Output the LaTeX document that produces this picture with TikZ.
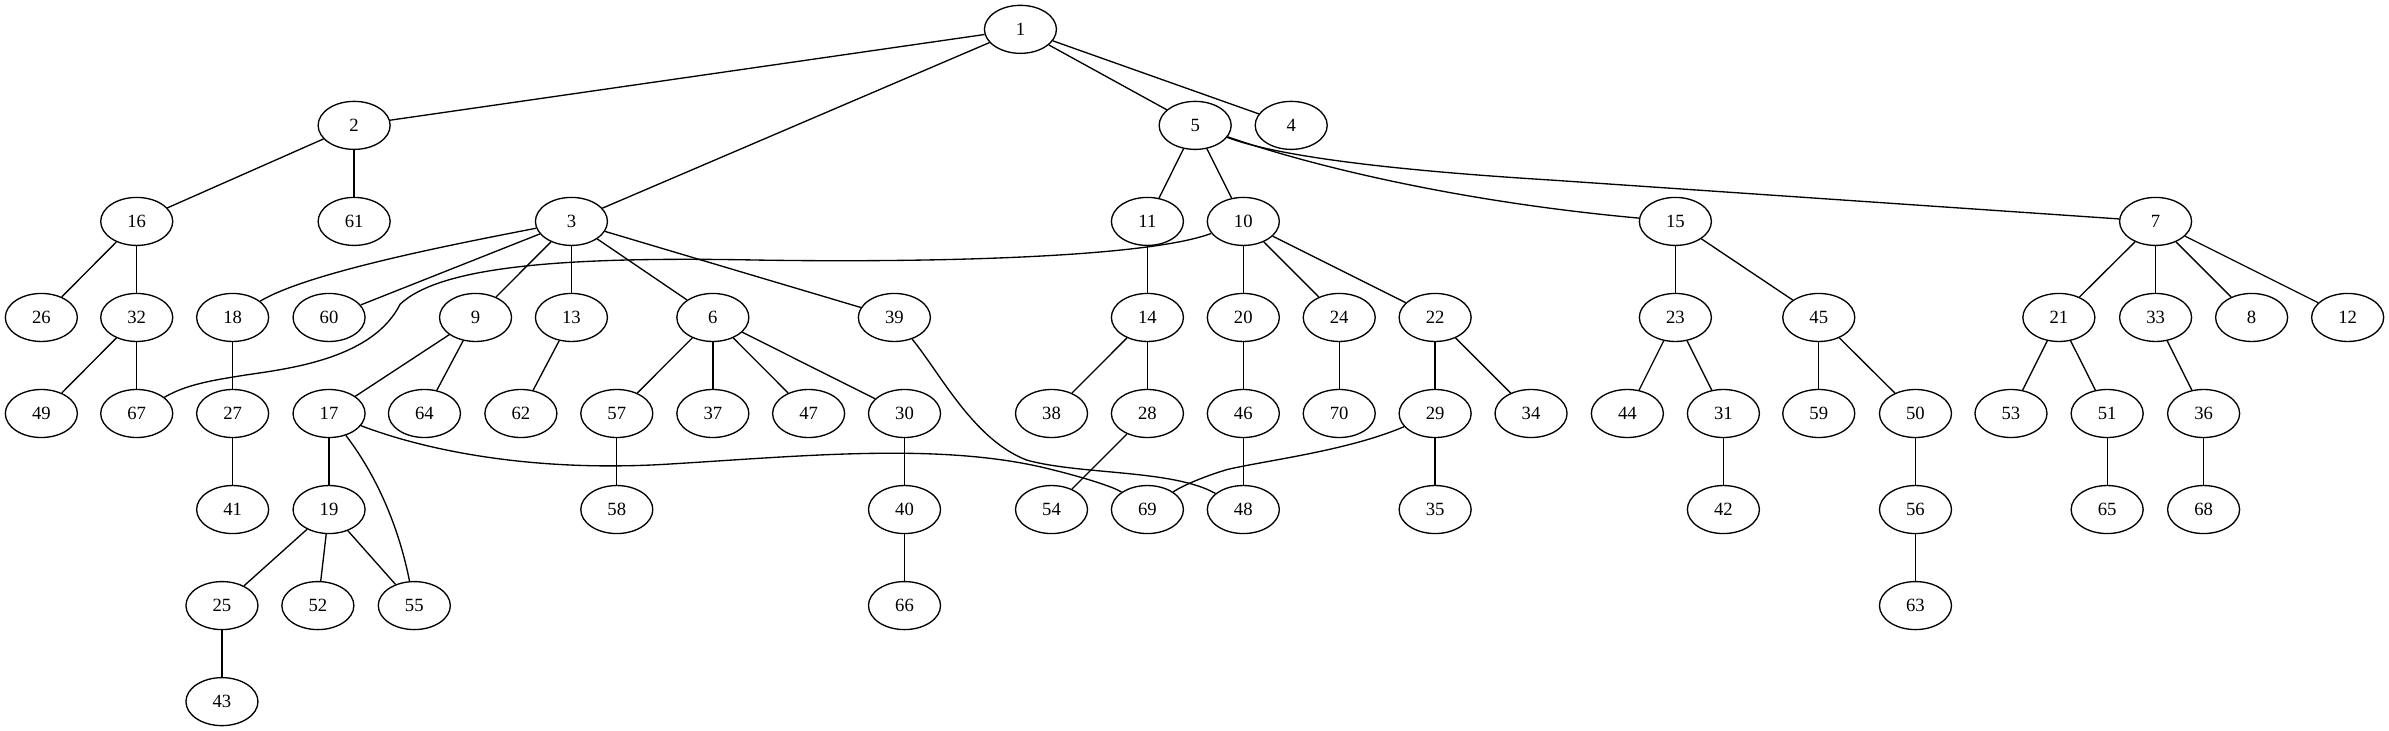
\documentclass[tikz,border=0pt]{standalone}
\usepackage{fontspec}
\setmainfont{Liberation Serif}
\usetikzlibrary{shapes.geometric}

\tikzset{
  vtx/.style={ellipse,draw,line width=1pt,minimum width=54pt,minimum height=36pt,inner sep=0pt,font=\fontsize{14}{16}\selectfont},
  lnk/.style={draw,line width=1pt}
}

\begin{document}
\begin{tikzpicture}[x=1pt,y=-1pt]
\useasboundingbox (0,0) rectangle (1791,548);
% rank 0 and 1
\node[vtx] (n1) at (765,22) {1};
\node[vtx] (n2) at (265.5,94) {2};
\node[vtx] (n5) at (896,94) {5};
\node[vtx] (n4) at (968,94) {4};
% rank 2
\node[vtx] (n16) at (102.5,166) {16};
\node[vtx] (n61) at (265.5,166) {61};
\node[vtx] (n3) at (428.4,166) {3};
\node[vtx] (n11) at (860.2,166) {11};
\node[vtx] (n10) at (932.1,166) {10};
\node[vtx] (n15) at (1256,166) {15};
\node[vtx] (n7) at (1616,166) {7};
% rank 3
\node[vtx] (n26) at (31,238) {26};
\node[vtx] (n32) at (102.5,238) {32};
\node[vtx] (n18) at (174.4,238) {18};
\node[vtx] (n60) at (246.7,238) {60};
\node[vtx] (n9) at (356.5,238) {9};
\node[vtx] (n13) at (428.4,238) {13};
\node[vtx] (n6) at (534.4,238) {6};
\node[vtx] (n39) at (670.5,238) {39};
\node[vtx] (n14) at (860.2,238) {14};
\node[vtx] (n20) at (932.1,238) {20};
\node[vtx] (n24) at (1004,238) {24};
\node[vtx] (n22) at (1075.9,238) {22};
\node[vtx] (n23) at (1256,238) {23};
\node[vtx] (n45) at (1363.5,238) {45};
\node[vtx] (n21) at (1543.5,238) {21};
\node[vtx] (n33) at (1616,238) {33};
\node[vtx] (n8) at (1688,238) {8};
\node[vtx] (n12) at (1760,238) {12};
% rank 4
\node[vtx] (n49) at (31,310) {49};
\node[vtx] (n67) at (102.5,310) {67};
\node[vtx] (n27) at (174.4,310) {27};
\node[vtx] (n17) at (246.7,310) {17};
\node[vtx] (n64) at (318.2,310) {64};
\node[vtx] (n62) at (390.5,310) {62};
\node[vtx] (n57) at (462.4,310) {57};
\node[vtx] (n37) at (534.4,310) {37};
\node[vtx] (n47) at (606.2,310) {47};
\node[vtx] (n30) at (678.1,310) {30};
\node[vtx] (n38) at (788.3,310) {38};
\node[vtx] (n28) at (860.2,310) {28};
\node[vtx] (n46) at (932.1,310) {46};
\node[vtx] (n70) at (1004,310) {70};
\node[vtx] (n29) at (1075.9,310) {29};
\node[vtx] (n34) at (1147.8,310) {34};
\node[vtx] (n44) at (1220,310) {44};
\node[vtx] (n31) at (1292,310) {31};
\node[vtx] (n59) at (1363.5,310) {59};
\node[vtx] (n50) at (1436,310) {50};
\node[vtx] (n53) at (1507.6,310) {53};
\node[vtx] (n51) at (1579.7,310) {51};
\node[vtx] (n36) at (1652,310) {36};
% rank 5
\node[vtx] (n41) at (174.4,382) {41};
\node[vtx] (n19) at (246.7,382) {19};
\node[vtx] (n58) at (462.4,382) {58};
\node[vtx] (n40) at (678.1,382) {40};
\node[vtx] (n54) at (788.3,382) {54};
\node[vtx] (n69) at (860.2,382) {69};
\node[vtx] (n48) at (932.1,382) {48};
\node[vtx] (n35) at (1075.9,382) {35};
\node[vtx] (n42) at (1292,382) {42};
\node[vtx] (n56) at (1436,382) {56};
\node[vtx] (n65) at (1579.7,382) {65};
\node[vtx] (n68) at (1652,382) {68};
% rank 6 and 7
\node[vtx] (n25) at (166.4,454) {25};
\node[vtx] (n52) at (238.3,454) {52};
\node[vtx] (n55) at (310.6,454) {55};
\node[vtx] (n66) at (678.1,454) {66};
\node[vtx] (n63) at (1436,454) {63};
\node[vtx] (n43) at (166.4,526) {43};

% edges
\draw[lnk] (n1) -- (n2);
\draw[lnk] (n1) -- (n3);
\draw[lnk] (n1) -- (n5);
\draw[lnk] (n1) -- (n4);
\draw[lnk] (n2) -- (n16);
\draw[lnk] (n2) -- (n61);
\draw[lnk] (n16) -- (n26);
\draw[lnk] (n16) -- (n32);
\draw[lnk] (n32) -- (n49);
\draw[lnk] (n32) -- (n67);
\draw[lnk] (n3) .. controls (330,185) and (230,205) .. (n18);
\draw[lnk] (n3) -- (n60);
\draw[lnk] (n3) -- (n9);
\draw[lnk] (n3) -- (n13);
\draw[lnk] (n3) -- (n6);
\draw[lnk] (n3) -- (n39);
\draw[lnk] (n18) -- (n27);
\draw[lnk] (n27) -- (n41);
\draw[lnk] (n9) -- (n17);
\draw[lnk] (n9) -- (n64);
\draw[lnk] (n13) -- (n62);
\draw[lnk] (n6) -- (n57);
\draw[lnk] (n6) -- (n37);
\draw[lnk] (n6) -- (n47);
\draw[lnk] (n6) -- (n30);
\draw[lnk] (n57) -- (n58);
\draw[lnk] (n30) -- (n40);
\draw[lnk] (n40) -- (n66);
\draw[lnk] (n17) -- (n19);
\draw[lnk] (n17) .. controls (285,360) and (300,400) .. (n55);
\draw[lnk] (n17) .. controls (320,338) and (400,354) .. (500,348) .. controls (600,342) and (700,332) .. (780,350) .. controls (810,357) and (835,365) .. (n69);
\draw[lnk] (n19) -- (n25);
\draw[lnk] (n19) -- (n52);
\draw[lnk] (n19) -- (n55);
\draw[lnk] (n25) -- (n43);
\draw[lnk] (n39) .. controls (705,280) and (730,330) .. (770,345) .. controls (810,356) and (880,352) .. (n48);
\draw[lnk] (n5) -- (n11);
\draw[lnk] (n5) -- (n10);
\draw[lnk] (n5) .. controls (970,120) and (1080,150) .. (n15);
\draw[lnk] (n5) .. controls (960,118) and (1050,128) .. (1163,135) -- (n7);
\draw[lnk] (n11) -- (n14);
\draw[lnk] (n14) -- (n38);
\draw[lnk] (n14) -- (n28);
\draw[lnk] (n28) -- (n54);
\draw[lnk] (n10) .. controls (860,193) and (700,197) .. (570,195) .. controls (420,192) and (330,200) .. (300,228) .. controls (280,268) and (220,276) .. (185,281) .. controls (160,285) and (140,288) .. (n67);
\draw[lnk] (n10) -- (n20);
\draw[lnk] (n10) -- (n24);
\draw[lnk] (n10) -- (n22);
\draw[lnk] (n20) -- (n46);
\draw[lnk] (n46) -- (n48);
\draw[lnk] (n24) -- (n70);
\draw[lnk] (n22) -- (n29);
\draw[lnk] (n22) -- (n34);
\draw[lnk] (n29) -- (n35);
\draw[lnk] (n29) .. controls (1010,338) and (950,345) .. (920,352) .. controls (900,358) and (885,365) .. (n69);
\draw[lnk] (n15) -- (n23);
\draw[lnk] (n15) -- (n45);
\draw[lnk] (n23) -- (n44);
\draw[lnk] (n23) -- (n31);
\draw[lnk] (n31) -- (n42);
\draw[lnk] (n45) -- (n59);
\draw[lnk] (n45) -- (n50);
\draw[lnk] (n50) -- (n56);
\draw[lnk] (n56) -- (n63);
\draw[lnk] (n7) -- (n21);
\draw[lnk] (n7) -- (n33);
\draw[lnk] (n7) -- (n8);
\draw[lnk] (n7) -- (n12);
\draw[lnk] (n21) -- (n53);
\draw[lnk] (n21) -- (n51);
\draw[lnk] (n51) -- (n65);
\draw[lnk] (n33) -- (n36);
\draw[lnk] (n36) -- (n68);

\end{tikzpicture}
\end{document}
